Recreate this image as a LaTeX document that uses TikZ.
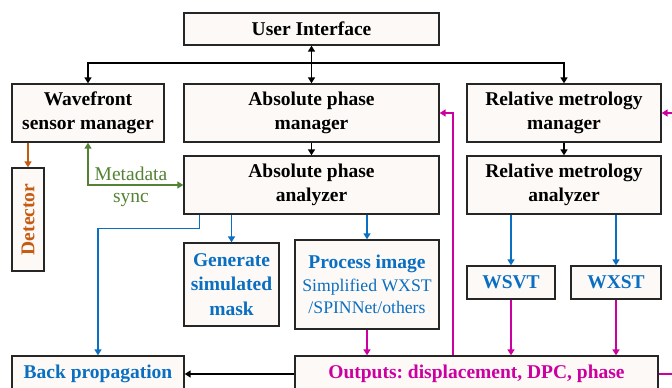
\documentclass[tikz,border=0pt]{standalone}
\usepackage{fontspec}
\usepackage{graphicx}
\setmainfont{Liberation Serif}
\usetikzlibrary{arrows.meta}
\definecolor{boxfill}{HTML}{FDF9F6}
\definecolor{boxline}{HTML}{262626}
\definecolor{cblue}{HTML}{0A6FC2}
\definecolor{cmag}{HTML}{CC00A0}
\definecolor{corange}{HTML}{C55A11}
\definecolor{cgreen}{HTML}{548235}
\tikzset{
  box/.style={draw=boxline, fill=boxfill, line width=1.3pt, inner sep=0pt, align=center,
    font=\fontsize{19.5}{24.4}\selectfont\bfseries\frenchspacing},
  conn/.style={line width=1.5pt},
  >={Triangle[width=7pt,length=6pt]}
}
\begin{document}
\begin{tikzpicture}[x=1pt,y=-1pt]
\useasboundingbox (0,0) rectangle (672,388);
\clip (0,0) rectangle (672,388);
% boxes
\node[box, minimum width=255pt, minimum height=32pt] (ui) at (311.5,29) {User Interface};
\node[box, minimum width=152pt, minimum height=58pt] (wf) at (88,113) {Wavefront\\sensor manager};
\node[box, minimum width=255pt, minimum height=58pt] (apm) at (311.5,113) {Absolute phase\\manager};
\node[box, minimum width=194pt, minimum height=58pt] (rmm) at (564,113) {Relative metrology\\manager};
\node[box, minimum width=255pt, minimum height=58pt] (apa) at (311.5,185) {Absolute phase\\analyzer};
\node[box, minimum width=194pt, minimum height=58pt] (rma) at (564,185) {Relative metrology\\analyzer};
\node[box, minimum width=32pt, minimum height=103pt, text=corange] (det) at (28,219.5) {\rotatebox{90}{Detector}};
\node[box, minimum width=95pt, minimum height=83pt, text=cblue] (gsm) at (231.5,284.5) {Generate\\simulated\\mask};
\node[box, minimum width=144pt, minimum height=89pt, text=cblue] (pi) at (367,284.5)
  {Process image\\[-2pt]{\fontsize{17.7}{21}\selectfont\mdseries Simplified WXST}\\[-2pt]{\fontsize{17.7}{21}\selectfont\mdseries /SPINNet/others}};
\node[box, minimum width=88pt, minimum height=33pt, text=cblue] (wsvt) at (511,282.5) {WSVT};
\node[box, minimum width=90pt, minimum height=33pt, text=cblue] (wxst) at (616,282.5) {WXST};
\node[box, minimum width=172pt, minimum height=36pt, text=cblue] (bp) at (98,374) {Back propagation};
\node[box, minimum width=363pt, minimum height=36pt, text=cmag] (out) at (476.5,374) {Outputs: displacement, DPC, phase};
% label
\node[text=cgreen, align=center, inner sep=0pt, font=\fontsize{19.5}{22}\selectfont] (meta) at (131,187) {Metadata\\sync};
% black connectors
\coordinate (hl) at (311.5,63);
\draw[conn,<->] (ui.south) -- (apm.north);
\draw[conn,->] (hl) -| (wf.north);
\draw[conn,->] (hl) -| (rmm.north);
\draw[conn,->] (apm.south) -- (apa.north);
\draw[conn,->] (rmm.south) -- (rma.north);
\draw[conn,->] (out.west) -- (bp.east);
% orange
\draw[conn,->,corange] (det.north |- wf.south) -- (det.north);
% green
\draw[conn,<->,cgreen] (wf.south) |- (apa.west);
% blue
\draw[conn,->,cblue] ([xshift=16pt]apa.south west) -- ++(0,14) -| (bp.north);
\draw[conn,->,cblue] (gsm.north |- apa.south) -- (gsm.north);
\draw[conn,->,cblue] (pi.north |- apa.south) -- (pi.north);
\draw[conn,->,cblue] (wsvt.north |- rma.south) -- (wsvt.north);
\draw[conn,->,cblue] (wxst.north |- rma.south) -- (wxst.north);
% magenta
\draw[conn,->,cmag] (pi.south) -- (pi.south |- out.north);
\draw[conn,->,cmag] (wsvt.south) -- (wsvt.south |- out.north);
\draw[conn,->,cmag] (wxst.south) -- (wxst.south |- out.north);
\coordinate (m1) at (453,0);
\draw[conn,->,cmag] (m1 |- out.north) |- (apm.east);
\coordinate (m2) at (700,0);
\draw[conn,->,cmag] (out.east) -| (m2 |- rmm.east) -- (rmm.east);
\end{tikzpicture}
\end{document}
